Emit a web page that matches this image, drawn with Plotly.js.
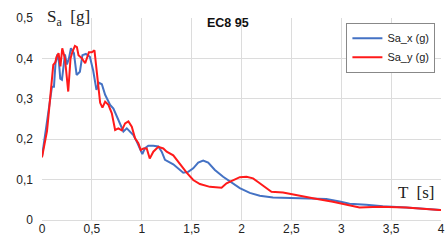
<!DOCTYPE html>
<html><head><meta charset="utf-8">
<script src="https://cdn.plot.ly/plotly-3.0.1.min.js"></script>
<style>html,body{margin:0;padding:0;background:#fff}#c{width:445px;height:244px}</style>
</head><body><div id="c"></div>
<script>
const T_x = [0,0.02,0.04,0.06,0.083,0.10,0.12,0.136,0.156,0.17,0.183,0.2,0.23,0.25,0.27,0.29,0.32,0.347,0.38,0.405,0.44,0.48,0.513,0.546,0.57,0.6,0.633,0.683,0.716,0.75,0.783,0.816,0.85,0.883,0.916,0.95,0.983,1.006,1.03,1.066,1.116,1.166,1.2,1.233,1.316,1.416,1.466,1.516,1.566,1.616,1.666,1.733,1.816,1.9,1.983,2.083,2.183,2.316,2.45,2.6,2.716,2.85,2.983,3.083,3.25,3.416,3.65,3.8,4.0];
const Sa_x = [0.157,0.19,0.23,0.26,0.30,0.33,0.33,0.39,0.41,0.39,0.35,0.347,0.41,0.385,0.40,0.425,0.413,0.359,0.367,0.408,0.411,0.404,0.37,0.322,0.34,0.336,0.31,0.285,0.276,0.256,0.239,0.219,0.227,0.219,0.21,0.194,0.177,0.163,0.177,0.184,0.184,0.182,0.169,0.149,0.138,0.117,0.119,0.128,0.142,0.147,0.142,0.124,0.107,0.094,0.079,0.067,0.060,0.056,0.055,0.055,0.054,0.052,0.046,0.040,0.038,0.034,0.031,0.029,0.025];
const T_y = [0,0.033,0.05,0.066,0.09,0.113,0.133,0.146,0.166,0.185,0.203,0.23,0.263,0.286,0.306,0.33,0.35,0.366,0.40,0.433,0.47,0.5,0.526,0.55,0.583,0.606,0.633,0.666,0.7,0.733,0.766,0.8,0.833,0.866,0.9,0.933,0.966,0.99,1.016,1.05,1.08,1.116,1.166,1.216,1.25,1.316,1.383,1.45,1.516,1.583,1.683,1.8,1.85,1.916,1.983,2.05,2.116,2.183,2.25,2.3,2.416,2.516,2.716,2.916,3.183,3.383,3.65,3.983,4.0];
const Sa_y = [0.155,0.198,0.22,0.26,0.33,0.384,0.39,0.404,0.413,0.38,0.425,0.40,0.318,0.40,0.417,0.431,0.428,0.408,0.40,0.388,0.415,0.415,0.42,0.37,0.29,0.278,0.293,0.285,0.264,0.223,0.227,0.222,0.239,0.244,0.231,0.202,0.19,0.173,0.177,0.177,0.152,0.169,0.181,0.177,0.169,0.16,0.138,0.117,0.099,0.089,0.082,0.080,0.091,0.099,0.106,0.107,0.103,0.091,0.078,0.070,0.068,0.063,0.054,0.045,0.031,0.033,0.031,0.025,0.025];
const names = ['Sa_x (g)','Sa_y (g)'];
const xTicks = [0,0.5,1,1.5,2,2.5,3,3.5,4];
const yTicks = [0,0.1,0.2,0.3,0.4,0.5];

const tickFont = {family:'Liberation Sans, Arial, sans-serif', size:12, color:'#222'};
const data = [
  {x:T_x, y:Sa_x, name:names[0], mode:'lines', line:{color:'#4472C4', width:2}},
  {x:T_y, y:Sa_y, name:names[1], mode:'lines', line:{color:'#FF1A1A', width:2}}
];
const layout = {
  width:445, height:244,
  margin:{l:42, r:4, t:18, b:24},
  separators:',.',
  paper_bgcolor:'#fff', plot_bgcolor:'#fff',
  showlegend:true,
  legend:{x:0.986, y:0.977, xanchor:'right', yanchor:'top', bgcolor:'#fff', bordercolor:'#888', borderwidth:1,
    font:{family:'Liberation Sans Narrow, Arial Narrow, sans-serif', size:11, color:'#222'}, itemwidth:30, tracegroupgap:0},
  xaxis:{range:[0,4], tickvals:xTicks, showgrid:true, gridcolor:'#dcdcdc', gridwidth:1, zeroline:false,
    showline:false, ticks:'', tickfont:tickFont, fixedrange:true},
  yaxis:{range:[0,0.5], tickvals:yTicks, showgrid:true, gridcolor:'#dcdcdc', gridwidth:1, zeroline:true, zerolinecolor:'#dcdcdc', zerolinewidth:1,
    showline:false, ticks:'', tickfont:tickFont, ticklabelstandoff:8, fixedrange:true},
  annotations:[
    {text:'<b>EC8 95</b>', xref:'paper', yref:'paper', x:0.465, y:0.975, xanchor:'center', yanchor:'middle', showarrow:false,
      font:{family:'Liberation Sans Narrow, Arial, sans-serif', size:12.5, color:'#111'}},
    {text:'S<sub>a</sub>  [g]', xref:'paper', yref:'paper', x:0.008, y:1.0, xanchor:'left', yanchor:'middle', showarrow:false,
      font:{family:'Liberation Serif, Times New Roman, serif', size:17, color:'#222'}},
    {text:'T  [s]', xref:'paper', yref:'paper', x:0.99, y:0.135, xanchor:'right', yanchor:'middle', showarrow:false,
      font:{family:'Liberation Serif, Times New Roman, serif', size:17, color:'#222'}}
  ]
};
Plotly.newPlot('c', data, layout, {displayModeBar:false, staticPlot:true});
</script></body></html>
